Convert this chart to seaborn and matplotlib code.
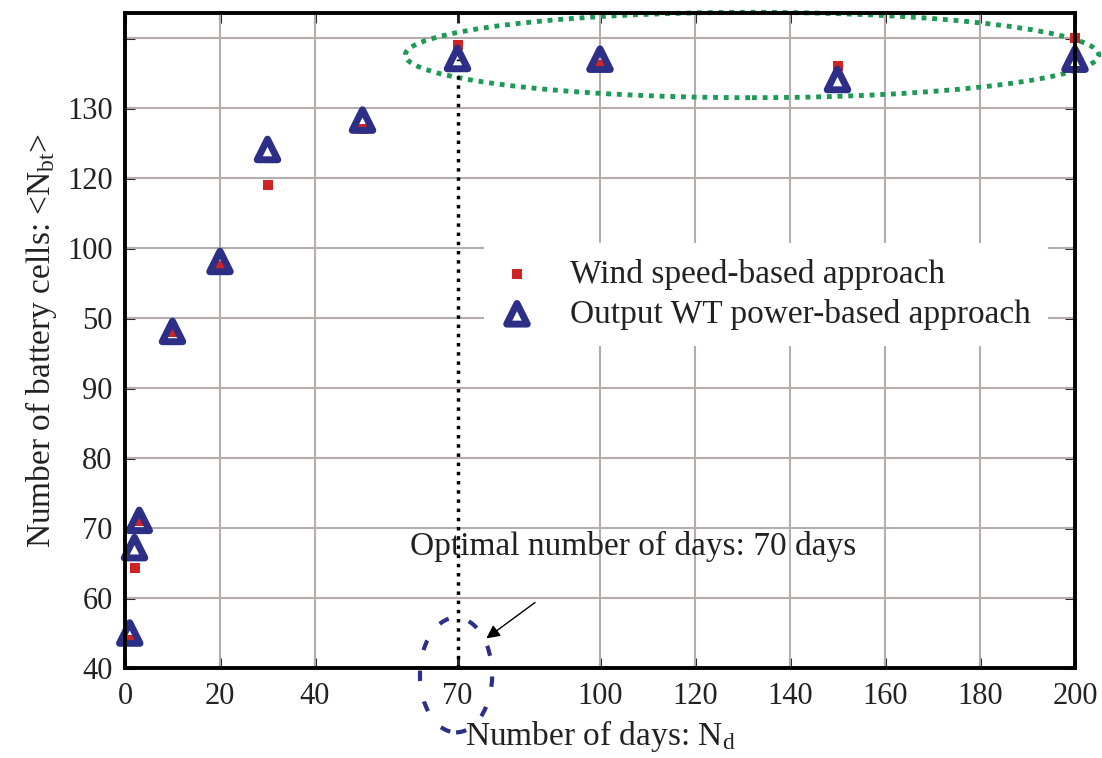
import numpy as np
import matplotlib
matplotlib.use("Agg")
import matplotlib.pyplot as plt
from matplotlib.patches import Ellipse
import seaborn as sns

# data
days = [1, 2, 3, 10, 20, 30, 50, 70, 100, 150, 200]
wind_speed_cells = [54.0, 64.3, 71.0, 98.0, 107.4, 119.0, 127.0, 139.0, 136.1, 136.0, 140.0]
wt_power_cells = [55.0, 67.2, 71.1, 98.1, 108.1, 124.1, 128.3, 137.1, 137.0, 134.1, 137.0]

x_ticks = [0, 20, 40, 70, 100, 120, 140, 160, 180, 200]
y_ticks = [50, 60, 70, 80, 90, 100, 110, 120, 130, 140]
y_tick_labels = ["40", "60", "70", "80", "90", "50", "100", "120", "130", ""]
optimal_days = 70

sns.set_style("ticks")
plt.rcParams['font.family'] = ['Liberation Serif', 'DejaVu Serif']
plt.rcParams['mathtext.fontset'] = 'custom'
plt.rcParams['mathtext.rm'] = 'Liberation Serif'
plt.rcParams['mathtext.it'] = 'Liberation Serif:italic'

text_color = '#222222'
red = '#d02424'
navy = '#2c2f85'
green = '#1f9a55'

fig = plt.figure(figsize=(11.02, 7.58), dpi=100)
ax = fig.add_axes([125 / 1102, 90 / 758, 950 / 1102, 655 / 758])

sns.scatterplot(x=days, y=wind_speed_cells, marker='s', s=60, color=red,
                edgecolor=red, linewidth=0, ax=ax, zorder=4, clip_on=False,
                label='Wind speed-based approach')
sns.scatterplot(x=days, y=wt_power_cells, marker='^', s=220, facecolor='none',
                edgecolor=navy, linewidth=5, ax=ax, zorder=5, clip_on=False,
                label='Output WT power-based approach')

ax.set_xlim(0, 200)
ax.set_ylim(50, 143.6)
ax.set_xticks(x_ticks)
ax.set_yticks(y_ticks)
ax.set_yticklabels(y_tick_labels)

# grid, but the 70-day line is drawn dotted instead
for xv in x_ticks[1:-1]:
    if xv != optimal_days:
        ax.axvline(xv, color='#b5adad', lw=1.5, zorder=1)
for yv in y_ticks[1:]:
    ax.axhline(yv, color='#b5adad', lw=1.5, zorder=1)

ax.vlines(optimal_days, 50, 137, colors='black', linestyles=':', lw=2.5, zorder=3)

for side in ['left', 'right', 'top', 'bottom']:
    ax.spines[side].set_linewidth(2.8)
    ax.spines[side].set_color('black')
    ax.spines[side].set_zorder(6)
ax.tick_params(direction='in', length=7, width=2.2, top=True, right=True,
               labelsize=22, labelcolor=text_color)
ax.tick_params(axis='x', pad=10)
ax.tick_params(axis='y', pad=9)

ax.set_xlabel(r"Number of days: N$_{\rm d}$", fontsize=24, color=text_color, labelpad=5)
ax.set_ylabel(r"Number of battery cells: <N$_{\rm bt}$>", fontsize=24, color=text_color, labelpad=6)

# highlight ellipses
ax.add_patch(Ellipse((132, 137.6), 146, 12.2, fill=False, edgecolor=green,
                     lw=3.5, ls=(0, (1, 1.2)), clip_on=False, zorder=2))
ax.add_patch(Ellipse((69.7, 49.0), 15.2, 16.4, fill=False, edgecolor=navy,
                     lw=3, ls=(0, (2.5, 5)), clip_on=False, zorder=2))

ax.text(60, 67.3, "Optimal number of days: 70 days", fontsize=24, color=text_color,
        va='center', ha='left', zorder=4)
ax.annotate("", xy=(75.6, 54.0), xytext=(86.8, 59.6),
            arrowprops=dict(arrowstyle='-|>', color='black', lw=1, mutation_scale=20),
            zorder=4)

leg = ax.legend(loc='upper left', bbox_to_anchor=(0.36, 0.675), fontsize=24,
                frameon=True, facecolor='white', edgecolor='none', framealpha=1,
                handlelength=1.0, handletextpad=1.1, borderpad=0.5,
                labelspacing=0.25, markerscale=1.0)
leg.set_zorder(4)
for t in leg.get_texts():
    t.set_color(text_color)

fig.savefig("out.png", dpi=100)
